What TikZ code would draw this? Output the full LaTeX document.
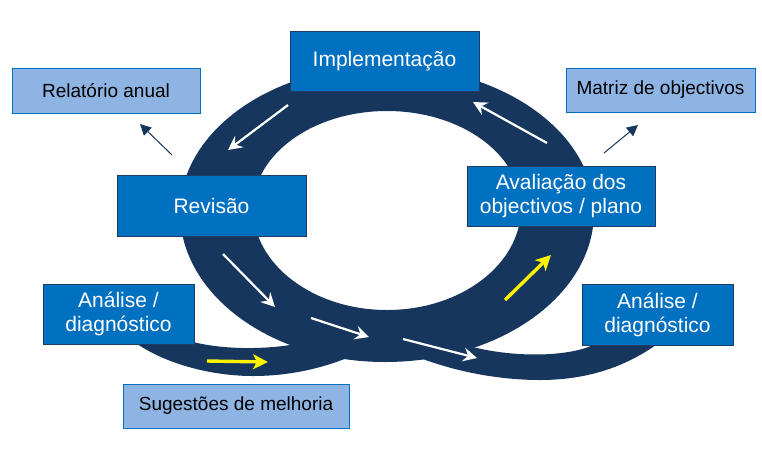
\documentclass[tikz,border=0pt]{standalone}
\usepackage{fontspec}
\setmainfont{Liberation Sans}
\usetikzlibrary{arrows.meta}
\definecolor{ringnavy}{RGB}{23,54,93}
\definecolor{boxblue}{RGB}{0,112,192}
\definecolor{lightblue}{RGB}{142,180,227}
\definecolor{boxedge}{RGB}{31,60,100}
\tikzset{
  ringfill/.style={fill=ringnavy},
  darkbox/.style={draw=boxedge, line width=0.9pt, fill=boxblue, text=white,
    font=\fontsize{21}{24}\selectfont, align=center, inner sep=0pt},
  lightbox/.style={draw=boxblue, line width=0.9pt, fill=lightblue, text=black,
    font=\fontsize{19}{22}\selectfont, align=center, inner sep=0pt},
  flow/.style={white, line width=2.2pt, -{Stealth[length=14pt,width=14pt,inset=5pt]}},
  yflow/.style={yellow, line width=3.4pt, -{Stealth[length=15pt,width=15pt,inset=4pt]}},
  outarrow/.style={ringnavy, line width=1pt, -{Triangle[length=11pt,width=11pt]}}
}
\begin{document}
\begin{tikzpicture}[x=1pt,y=-1pt]
\useasboundingbox (0,0) rectangle (762,451);
% main ring (outer and inner contours)
\fill[ringfill, even odd rule]
  (385,66) .. controls (500.4,66) and (594,131.4) .. (594,212)
  .. controls (594,294.8) and (500.4,362) .. (385,362)
  .. controls (271.8,362) and (180,294.8) .. (180,212)
  .. controls (180,131.4) and (271.8,66) .. (385,66) -- cycle
  (387,111) .. controls (461,111) and (521,154.4) .. (521,208)
  .. controls (521,264.3) and (461,310) .. (387,310)
  .. controls (313,310) and (253,264.3) .. (253,208)
  .. controls (253,154.4) and (313,111) .. (387,111) -- cycle;
% left lobe
\fill[ringfill] (120,330) .. controls (150,360) and (205,376) .. (253,376)
  .. controls (290,376) and (322,368) .. (347,358) -- (362,330) -- (290,345)
  .. controls (265,349) and (225,350) .. (193,342) -- (165,330) -- cycle;
% right lobe
\fill[ringfill] (415,356) .. controls (455,372) and (500,380) .. (540,380)
  .. controls (585,380) and (625,368) .. (660,342) -- (665,320) -- (600,320) -- (593,345)
  .. controls (570,356) and (520,358) .. (477,348) -- (440,340) -- cycle;
% flow arrows
\coordinate (w1s) at (288,105); \coordinate (w1e) at (228,150);
\coordinate (w2s) at (547,143); \coordinate (w2e) at (473,102);
\coordinate (w3s) at (223,254); \coordinate (w3e) at (275,307);
\coordinate (w4s) at (311,318); \coordinate (w4e) at (369,337);
\coordinate (w5s) at (403,339); \coordinate (w5e) at (477,358);
\coordinate (y1s) at (207,361); \coordinate (y1e) at (268,362);
\coordinate (y2s) at (505,300); \coordinate (y2e) at (551,255);
\draw[flow] (w1s) -- (w1e);
\draw[flow] (w2s) -- (w2e);
\draw[flow] (w3s) -- (w3e);
\draw[flow] (w4s) -- (w4e);
\draw[flow] (w5s) -- (w5e);
\draw[yflow] (y1s) -- (y1e);
\draw[yflow] (y2s) -- (y2e);
% boxes
\node[darkbox, minimum width=189pt, minimum height=60pt] (impl) at (384.5,61) {Implementação};
\node[lightbox, minimum width=188pt, minimum height=45pt] (rel) at (106,90.5) {Relatório anual};
\node[darkbox, minimum width=189pt, minimum height=61pt] (rev) at (211.5,205.5) {Revisão};
\node[lightbox, minimum width=189pt, minimum height=44pt] (mat) at (660.5,90) {Matriz de objectivos};
\node[darkbox, minimum width=188pt, minimum height=60pt] (aval) at (561,196) {Avaliação dos\\objectivos / plano};
\node[darkbox, minimum width=151pt, minimum height=60pt] (anl) at (118.5,314) {Análise /\\diagnóstico};
\node[darkbox, minimum width=151pt, minimum height=61pt] (anr) at (657.5,314.5) {Análise /\\diagnóstico};
\node[lightbox, minimum width=226pt, minimum height=44pt] (sug) at (236,406) {Sugestões de melhoria};
% output arrows
\coordinate (o1s) at (172,155); \coordinate (o1e) at (140,124);
\coordinate (o2s) at (604,153); \coordinate (o2e) at (638,125);
\draw[outarrow] (o1s) -- (o1e);
\draw[outarrow] (o2s) -- (o2e);
\end{tikzpicture}
\end{document}
